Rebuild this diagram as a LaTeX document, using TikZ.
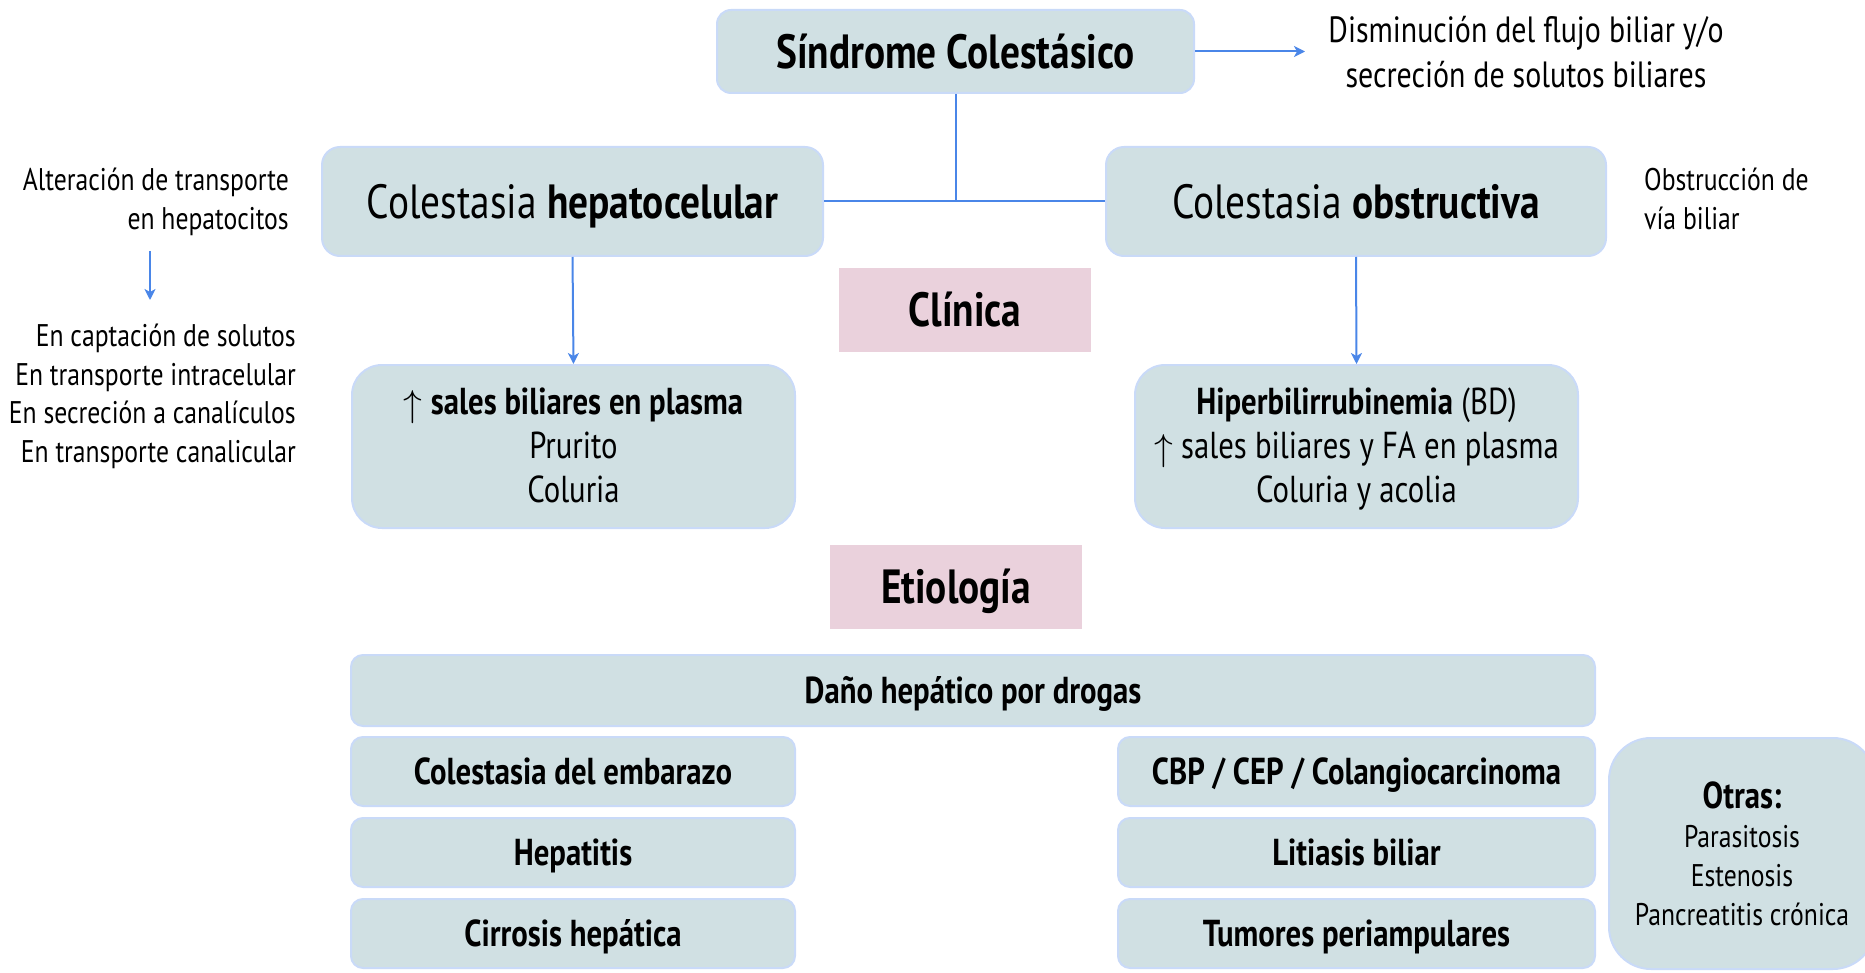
\RequirePackage{fix-cm}
\documentclass[tikz,border=0pt]{standalone}
\usepackage{fontspec}
\setmainfont{PT Sans}[FakeStretch=0.82]
\usetikzlibrary{arrows.meta}
\definecolor{boxfill}{HTML}{D0E0E3}
\definecolor{boxline}{HTML}{C9DAF8}
\definecolor{pinkfill}{HTML}{EAD1DC}
\definecolor{arrowblue}{HTML}{4A86E8}
\newcommand\fsz[2]{\fontsize{#1}{#2}\selectfont}
\newcommand\uparr{\raisebox{-0.05em}{$\uparrow$}}
\newcommand\eqln{\vphantom{\uparr(Áy}}
\tikzset{
  box/.style={draw=boxline, fill=boxfill, line width=2pt, rounded corners=#1, inner sep=0pt, align=center},
  box/.default=14pt,
  pinkbox/.style={fill=pinkfill, inner sep=0pt, align=center, minimum width=252pt, minimum height=84pt, font=\fsz{48}{54}\bfseries, text height=33.6pt, text depth=0pt},
  title/.style={font=\fsz{48}{54}, text height=33.6pt, text depth=0pt},
  body/.style={font=\fsz{37.5}{44}},
  etio/.style={box=12pt, minimum height=69pt, font=\fsz{37.5}{44}\bfseries, text height=26.25pt, text depth=0pt},
  side/.style={inner sep=0pt, font=\fsz{31.3}{38.5}},
  conn/.style={draw=arrowblue, line width=2pt},
  arr/.style={draw=arrowblue, line width=2pt, -{Stealth[length=11pt,width=11pt,inset=3pt]}},
  plain/.style={inner sep=0pt, align=center}
}
\begin{document}
\begin{tikzpicture}[x=1pt,y=-1pt]
\useasboundingbox (0,0) rectangle (1865,973);
% top
\node[box=14pt, minimum width=477pt, minimum height=83pt, title] (sind) at (955.5,51.5) {\bfseries Síndrome Colestásico};
\node[plain, font=\fsz{36.5}{45}] (def) at (1526,52) {Disminución del flujo biliar y/o\\secreción de solutos biliares};
\coordinate (defin) at (1305,51.5);
\draw[arr] (sind.east) -- (defin);
% second level
\node[box=18pt, minimum width=501pt, minimum height=109pt, title] (hep) at (572.5,201.5) {Colestasia \textbf{hepatocelular}};
\node[box=18pt, minimum width=500pt, minimum height=109pt, title] (obs) at (1356,201.5) {Colestasia \textbf{obstructiva}};
\draw[conn] (hep.east) -- (obs.west);
\draw[conn] (sind.south) -- (sind.south |- hep.east);
% side texts
\node[side, align=right, anchor=east] (alt) at (289,202) {Alteración de transporte\\en hepatocitos};
\node[side, align=right, anchor=east] (list) at (296,396.5) {En captación de solutos\\En transporte intracelular\\En secreción a canalículos\\En transporte canalicular};
\coordinate (a1) at (150,251);
\coordinate (a2) at (150,300);
\draw[arr, line width=1.6pt] (a1) -- (a2);
\node[side, align=left, anchor=west] (obsdef) at (1644,199) {Obstrucción de\\vía biliar};
% clinica
\node[pinkbox] (clin) at (965,310) {Clínica};
\node[box=30pt, minimum width=443pt, minimum height=163pt, body] (cl) at (573.5,446.5) {\eqln\uparr\ \textbf{sales biliares en plasma}\\Prurito\\Coluria\eqln};
\node[box=30pt, minimum width=443pt, minimum height=163pt, body] (cr) at (1356.5,446.5) {\eqln\textbf{Hiperbilirrubinemia} (BD)\\\uparr\ sales biliares y FA en plasma\\Coluria y acolia\eqln};
\draw[arr] (hep.south) -- (cl.north);
\draw[arr] (obs.south) -- (cr.north);
% etiologia
\node[pinkbox] (etio) at (956,587) {Etiología};
\node[etio, minimum width=1244pt, minimum height=71pt] (dano) at (973,690.5) {Daño hepático por drogas};
\node[etio, minimum width=444pt] (emb) at (573,771.5) {Colestasia del embarazo};
\node[etio, minimum width=444pt] (hepa) at (573,852.5) {Hepatitis};
\node[etio, minimum width=444pt] (cirr) at (573,933.5) {Cirrosis hepática};
\node[etio, minimum width=477pt] (cbp) at (1356.5,771.5) {CBP / CEP / Colangiocarcinoma};
\node[etio, minimum width=477pt] (lit) at (1356.5,852.5) {Litiasis biliar};
\node[etio, minimum width=477pt] (tum) at (1356.5,933.5) {Tumores periampulares};
\node[box=42pt, minimum width=266pt, minimum height=231pt, font=\fsz{31.3}{39}] (otras) at (1742,853.5) {{\fsz{37.5}{39}\bfseries Otras:}\\Parasitosis\\Estenosis\\Pancreatitis crónica};
\end{tikzpicture}
\end{document}
